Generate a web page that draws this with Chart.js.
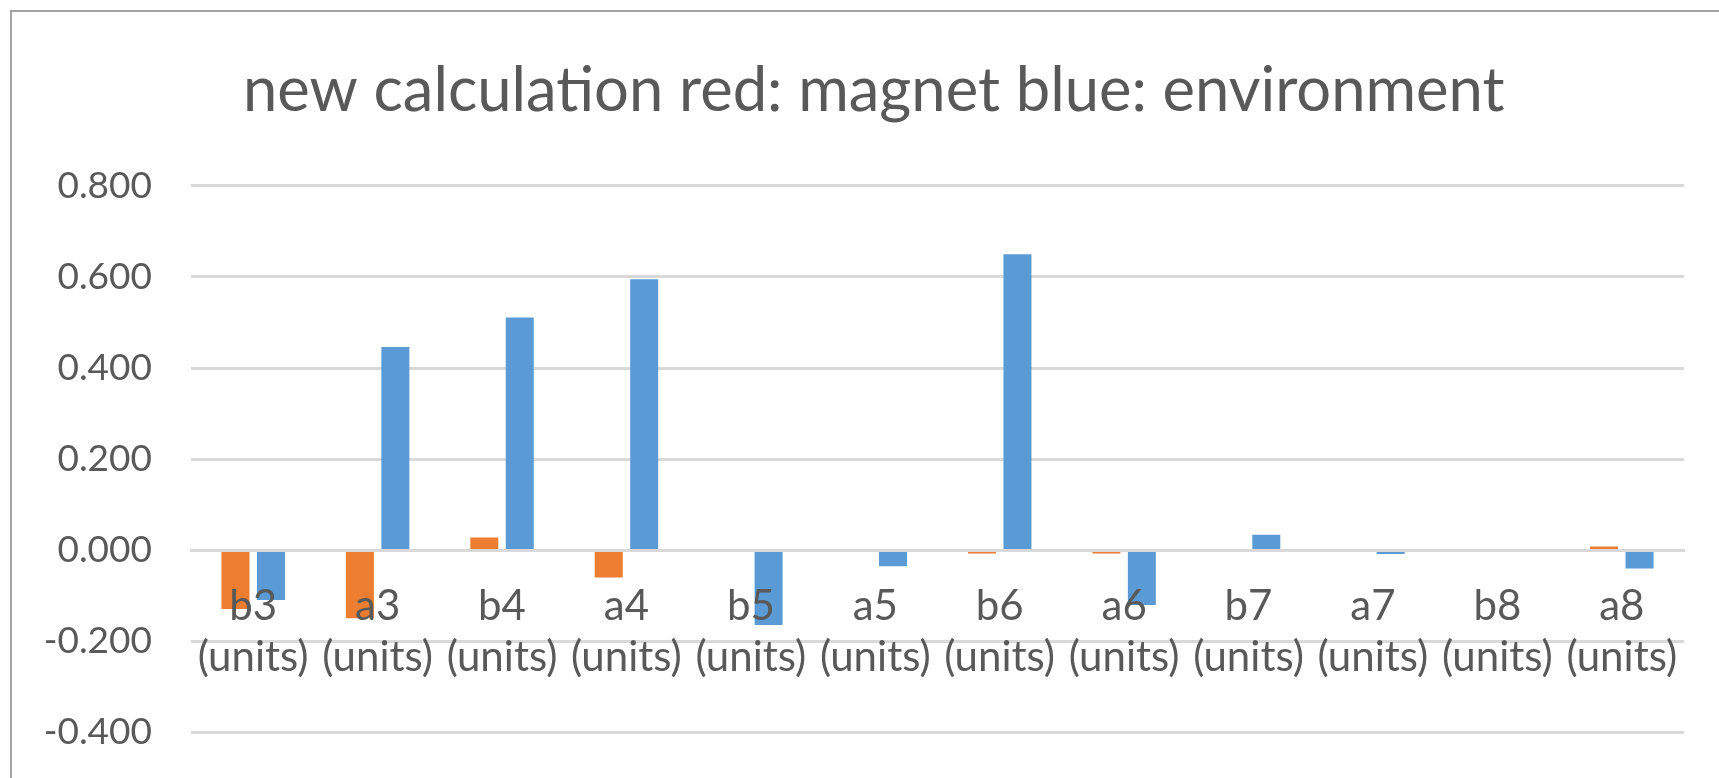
<!DOCTYPE html>
<html>
<head>
<meta charset="utf-8">
<script src="https://cdn.jsdelivr.net/npm/chart.js@4/dist/chart.umd.min.js"></script>
<style>
  html, body { margin: 0; padding: 0; background: #fff; overflow: hidden; width: 1719px; height: 778px; }
  #frame { position: absolute; left: 10px; top: 10px; border-left: 2px solid #a3a3a3; border-top: 2px solid #a3a3a3; }
  canvas { display: block; }
</style>
</head>
<body>
<div id="frame"><canvas id="c" width="1723" height="766"></canvas></div>
<script>
// Categories along the horizontal axis
const categories = ['b3', 'a3', 'b4', 'a4', 'b5', 'a5', 'b6', 'a6', 'b7', 'a7', 'b8', 'a8'];
const unitLabel = '(units)';

// Series values
const magnet = [-0.129, -0.149, 0.028, -0.060, 0, 0, -0.007, -0.007, 0, 0, 0, 0.008];
const environment = [-0.109, 0.446, 0.511, 0.595, -0.164, -0.035, 0.650, -0.120, 0.034, -0.008, 0, -0.040];

// Value axis range and spacing
const yMin = -0.4;
const yMax = 0.8;
const yStep = 0.2;

const titleText = 'new calculation red: magnet blue: environment';

const textColor = '#595959';
const gridColor = '#d9d9d9';
const fontFamily = 'Lato, "Open Sans", sans-serif';

// The title is centred on the whole chart frame, which runs past the plot's right edge
const titleShift = {
  id: 'titleShift',
  afterLayout(chart) {
    const t = chart.titleBlock;
    if (t) { t.left += 25.7; t.right += 25.7; }
  }
};

new Chart(document.getElementById('c'), {
  type: 'bar',
  plugins: [titleShift],
  data: {
    labels: categories.map(c => [c, unitLabel]),
    datasets: [
      { label: 'magnet', data: magnet, backgroundColor: '#ED7D31', borderWidth: 0 },
      { label: 'environment', data: environment, backgroundColor: '#5B9BD5', borderWidth: 0 }
    ]
  },
  options: {
    responsive: false,
    animation: false,
    devicePixelRatio: 1,
    categoryPercentage: 0.57,
    barPercentage: 0.79,
    layout: { padding: { left: 0, right: 51, top: 0, bottom: 45.5 } },
    plugins: {
      legend: { display: false },
      tooltip: { enabled: false },
      title: {
        display: true,
        text: titleText,
        color: textColor,
        font: { family: fontFamily, size: 61.5, weight: 'normal', lineHeight: 1.2 },
        padding: { top: 42, bottom: 58 }
      }
    },
    scales: {
      x: {
        position: { y: 0 },
        grid: { display: false, drawTicks: false },
        border: { display: true, color: gridColor, width: 3, z: 1 },
        ticks: {
          z: 1,
          color: textColor,
          font: { family: fontFamily, size: 42, lineHeight: 1.23 },
          padding: 30,
          maxRotation: 0,
          minRotation: 0,
          autoSkip: false
        },
        afterFit: s => { s.height = 0; }
      },
      y: {
        min: yMin,
        max: yMax,
        grid: { color: gridColor, lineWidth: 3, drawTicks: false },
        border: { display: false },
        ticks: {
          stepSize: yStep,
          color: textColor,
          font: { family: fontFamily, size: 37 },
          padding: 39,
          callback: v => v.toFixed(3)
        },
        afterFit: s => { s.width = 179; s.paddingTop = 0; s.paddingBottom = 0; }
      }
    }
  }
});
</script>
</body>
</html>
